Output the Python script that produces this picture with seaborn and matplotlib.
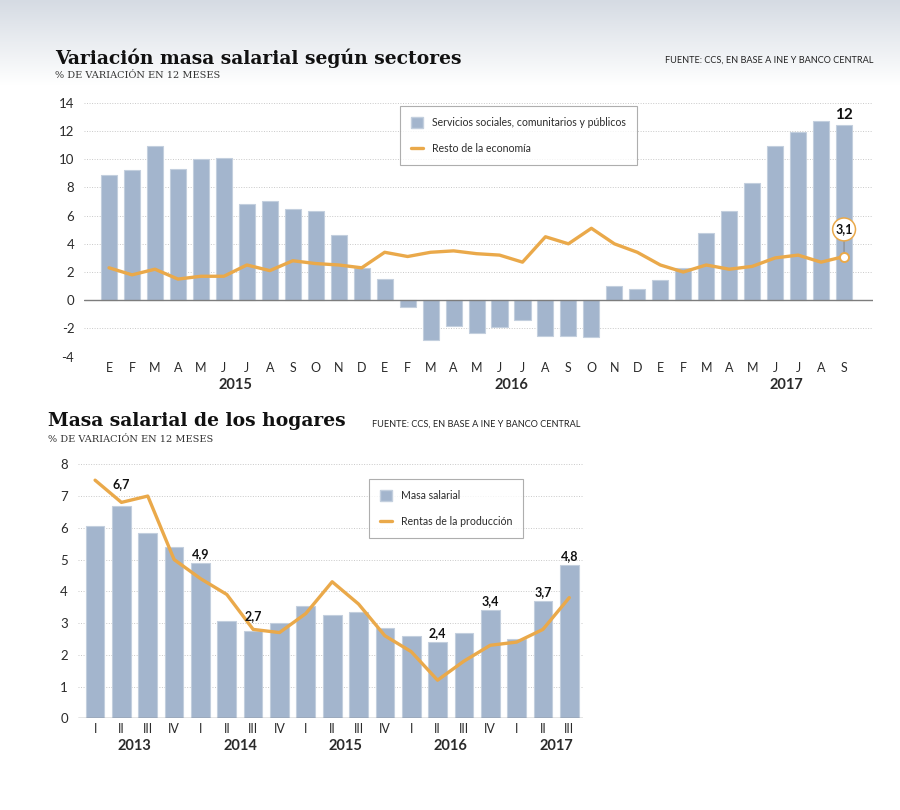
import numpy as np
import pandas as pd
import matplotlib
matplotlib.use("Agg")
import matplotlib.pyplot as plt
from matplotlib.patches import Patch
from matplotlib.lines import Line2D
from matplotlib.colors import LinearSegmentedColormap
import seaborn as sns

sns.set_style("white")
plt.rcParams['font.family'] = ['Lato', 'DejaVu Sans']
plt.rcParams['axes.unicode_minus'] = False

# ---- top chart: monthly, Jan 2015 - Sep 2017
meses = ["E", "F", "M", "A", "M", "J", "J", "A", "S", "O", "N", "D"] * 2 + \
        ["E", "F", "M", "A", "M", "J", "J", "A", "S"]
anios_m = ["2015", "2016", "2017"]
servicios = [8.9, 9.2, 10.9, 9.3, 10.0, 10.1, 6.8, 7.0, 6.5, 6.3, 4.6, 2.3,
             1.5, -0.5, -2.8, -1.8, -2.3, -1.9, -1.4, -2.5, -2.5, -2.6, 1.0, 0.8,
             1.4, 2.3, 4.8, 6.3, 8.3, 10.9, 11.9, 12.7, 12.4]
resto = [2.3, 1.8, 2.2, 1.5, 1.7, 1.7, 2.5, 2.1, 2.8, 2.6, 2.5, 2.3,
         3.4, 3.1, 3.4, 3.5, 3.3, 3.2, 2.7, 4.5, 4.0, 5.1, 4.0, 3.4,
         2.5, 2.0, 2.5, 2.2, 2.4, 3.0, 3.2, 2.7, 3.1]

# ---- bottom chart: quarterly, 2013 Q1 - 2017 Q3
trimestres = ["I", "II", "III", "IV"] * 4 + ["I", "II", "III"]
anios_t = ["2013", "2014", "2015", "2016", "2017"]
masa = [6.05, 6.7, 5.85, 5.4, 4.9, 3.05, 2.74, 3.0, 3.55, 3.25, 3.35, 2.85,
        2.6, 2.4, 2.7, 3.4, 2.5, 3.7, 4.84]
rentas = [7.5, 6.8, 7.0, 5.0, 4.4, 3.9, 2.8, 2.7, 3.3, 4.3, 3.6, 2.6,
          2.1, 1.2, 1.8, 2.3, 2.4, 2.8, 3.8]
etiquetas_t = [1, 4, 6, 13, 15, 17, 18]

BAR = "#a3b5cd"
EDGE = "#c3cfde"
LINE = "#eaa94a"
TXT = "#2b2b2b"
W, H = 900, 810


def fx(x):
    return x / W


def fy(y):
    return 1 - y / H


def style_axis(ax, xlabels, years, year_pos, pad_x, year_off):
    sns.despine(ax=ax, left=True, bottom=True)
    ax.set_axisbelow(True)
    ax.yaxis.grid(True, linestyle=(0, (1, 1.6)), color="#c9c9c9", linewidth=0.7)
    ax.xaxis.grid(False)
    ax.axhline(0, color="#7d7d7d", linewidth=1, zorder=3)
    ax.set_xticks(range(len(xlabels)))
    ax.set_xticklabels(xlabels)
    ax.tick_params(axis="x", length=0, labelsize=9, colors=TXT, pad=pad_x)
    ax.tick_params(axis="y", length=0, labelsize=9.5, colors=TXT, pad=7)
    ax.set_xlabel("")
    ax.set_ylabel("")
    for yr, p in zip(years, year_pos):
        ax.annotate(yr, xy=(p, 0), xycoords=("data", "axes fraction"),
                    xytext=(0, year_off), textcoords="offset points",
                    ha="center", va="top", fontsize=10.5, fontweight="bold", color=TXT)


def legend(ax, labels, x0, y0):
    handles = [Patch(facecolor=BAR, edgecolor=EDGE), Line2D([], [], color=LINE, lw=2.4)]
    leg = ax.legend(handles, labels, loc="upper left",
                    bbox_to_anchor=(fx(x0), fy(y0)), bbox_transform=ax.figure.transFigure,
                    frameon=True, fancybox=False, fontsize=7.6, labelspacing=1.45,
                    handlelength=1.1, handleheight=1.1, handletextpad=0.85,
                    borderpad=1.05, borderaxespad=0)
    leg.get_frame().set_edgecolor("#9a9a9a")
    leg.get_frame().set_linewidth(0.8)
    for t in leg.get_texts():
        t.set_color(TXT)
    return leg


fig = plt.figure(figsize=(9, 8.1), dpi=100)

# header gradient
bg = fig.add_axes([0, fy(85), 1, 85 / H], zorder=-10)
grad = np.linspace(0, 1, 200)[:, None]
bg.imshow(grad, aspect="auto", cmap=LinearSegmentedColormap.from_list("g", ["#d5dbe3", "#ffffff"]),
          extent=(0, 1, 0, 1))
bg.axis("off")

# ---------------- top chart
ax1 = fig.add_axes([fx(84), fy(356.7), fx(873 - 84), (356.7 - 102.7) / H])
df1 = pd.DataFrame({"pos": range(len(servicios)), "servicios": servicios, "resto": resto})
sns.barplot(data=df1, x="pos", y="servicios", native_scale=True, color=BAR, saturation=1,
            width=0.7, edgecolor=EDGE, linewidth=0.8, ax=ax1)
sns.lineplot(data=df1, x="pos", y="resto", color=LINE, linewidth=2.4, ax=ax1, zorder=4)
ax1.set_xlim(-1.09, 33.26)
ax1.set_ylim(-4, 14)
ax1.set_yticks(range(-4, 15, 2))
style_axis(ax1, meses, anios_m, [5.5 + 12 * i for i in range(len(anios_m))], 4, -15)

last = len(servicios) - 1
ax1.annotate(f"{servicios[last]:.0f}", xy=(last, servicios[last]), xytext=(0, 2.5),
             textcoords="offset points", ha="center", va="bottom",
             fontsize=11, fontweight="bold", color="#111")
ax1.plot(last, resto[last], "o", mfc="white", mec=LINE, ms=6.5, mew=1.4, zorder=6)
ax1.annotate(f"{resto[last]:.1f}".replace(".", ","), xy=(last, resto[last]), xytext=(0, 19.5),
             textcoords="offset points", ha="center", va="center",
             fontsize=9, fontweight="bold", color="#111", zorder=7,
             bbox=dict(boxstyle="circle,pad=0.22", fc="white", ec=LINE, lw=1.1),
             arrowprops=dict(arrowstyle="-", color="#8a8a8a", lw=0.8, shrinkA=0, shrinkB=3.5))
legend(ax1, ["Servicios sociales, comunitarios y públicos", "Resto de la economía"], 400, 106)

fig.text(fx(55), fy(64), "Variación masa salarial según sectores", family="DejaVu Serif",
         fontsize=13.5, fontweight="bold", color="#111", va="baseline")
fig.text(fx(55), fy(78), "% DE VARIACIÓN EN 12 MESES", family="DejaVu Serif",
         fontsize=7, color="#333", va="baseline")
fig.text(fx(873), fy(63), "FUENTE: CCS, EN BASE A INE Y BANCO CENTRAL", fontsize=6.6,
         color="#222", ha="right", va="baseline")

# ---------------- bottom chart
ax2 = fig.add_axes([fx(77.7), fy(718.3), fx(582.7 - 77.7), 254 / H])
df2 = pd.DataFrame({"pos": range(len(masa)), "masa": masa, "rentas": rentas})
sns.barplot(data=df2, x="pos", y="masa", native_scale=True, color=BAR, saturation=1,
            width=0.71, edgecolor=EDGE, linewidth=0.8, ax=ax2)
sns.lineplot(data=df2, x="pos", y="rentas", color=LINE, linewidth=2.4, ax=ax2, zorder=4)
ax2.set_xlim(-0.66, 18.51)
ax2.set_ylim(0, 8)
ax2.set_yticks(range(0, 9))
style_axis(ax2, trimestres, anios_t, [1.5 + 4 * i for i in range(len(anios_t))], 3.5, -15)

extra = {1: 9, 6: 4.5}
for i in etiquetas_t:
    ax2.annotate(f"{masa[i]:.1f}".replace(".", ","), xy=(i, masa[i]),
                 xytext=(0, 2 + extra.get(i, 0)), textcoords="offset points",
                 ha="center", va="bottom", fontsize=9, fontweight="bold", color="#111", zorder=6)
legend(ax2, ["Masa salarial", "Rentas de la producción"], 369, 479)

fig.text(fx(48), fy(426), "Masa salarial de los hogares", family="DejaVu Serif",
         fontsize=13.5, fontweight="bold", color="#111", va="baseline")
fig.text(fx(48), fy(442), "% DE VARIACIÓN EN 12 MESES", family="DejaVu Serif",
         fontsize=7, color="#333", va="baseline")
fig.text(fx(372), fy(427), "FUENTE: CCS, EN BASE A INE Y BANCO CENTRAL", fontsize=6.6,
         color="#222", ha="left", va="baseline")

fig.savefig("out.png", dpi=100)
